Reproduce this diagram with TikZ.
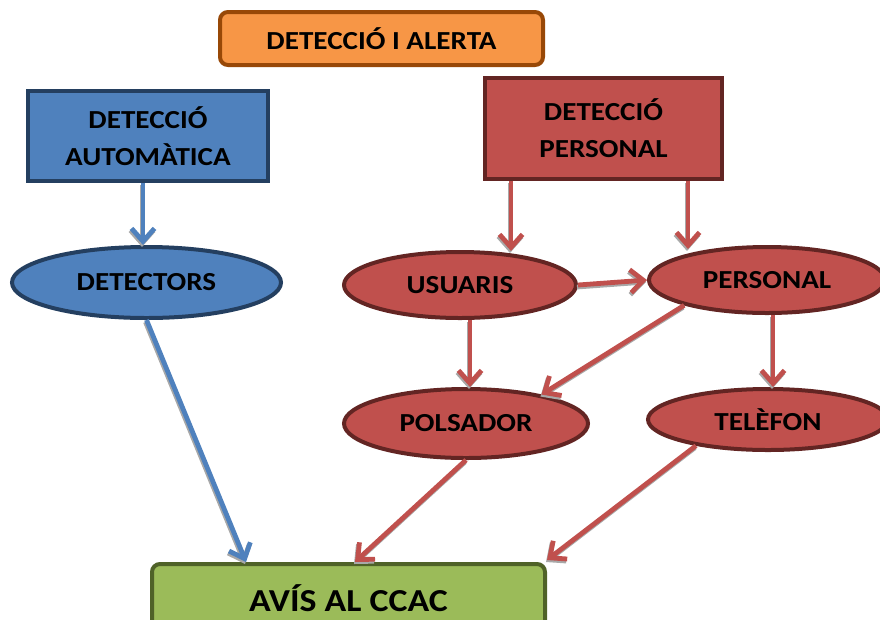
\documentclass[tikz,border=0pt]{standalone}
\usepackage{fontspec}
\newfontfamily\dfont{Carlito}[FakeStretch=1.12]
\usetikzlibrary{shapes.geometric,arrows.meta,calc}
\definecolor{orfill}{HTML}{F79646}
\definecolor{ordraw}{HTML}{984807}
\definecolor{blfill}{HTML}{4F81BD}
\definecolor{bldraw}{HTML}{243F60}
\definecolor{rdfill}{HTML}{C0504D}
\definecolor{rddraw}{HTML}{632523}
\definecolor{grfill}{HTML}{9BBB59}
\definecolor{grdraw}{HTML}{4F6228}
\definecolor{shad}{HTML}{A8A8A8}
\begin{document}
\begin{tikzpicture}[x=1pt,y=-1pt,
  txt/.style={font=\dfont\bfseries\fontsize{26}{37}\selectfont, text=black, align=center, inner sep=0pt},
  rbox/.style={txt, rectangle, draw, line width=4pt},
  ell/.style={txt, ellipse, draw, line width=4pt},
  conn/.style={line width=4.8pt, -{Straight Barb[length=13pt,width=23pt,line width=4.8pt]}},
]
\clip (0,0) rectangle (880,619);
\useasboundingbox (0,0) rectangle (880,619);

% boxes
\node[rbox, fill=orfill, draw=ordraw, rounded corners=8pt, minimum width=323pt, minimum height=53pt] (top) at (381.5,38.5) {DETECCIÓ I ALERTA};
\node[rbox, fill=blfill, draw=bldraw, minimum width=240pt, minimum height=90pt] (auto) at (148,136) {DETECCIÓ\\AUTOMÀTICA};
\node[rbox, fill=rdfill, draw=rddraw, minimum width=237pt, minimum height=101pt] (rb) at (603.5,128) {DETECCIÓ\\PERSONAL};
\node[rbox, fill=grfill, draw=grdraw, rounded corners=8pt, minimum width=393pt, minimum height=68pt,
      font=\dfont\bfseries\fontsize{32}{38}\selectfont] (avis) at (348.5,598) {AVÍS AL CCAC};

% ellipses
\node[ell, fill=blfill, draw=bldraw, minimum width=269pt, minimum height=71pt] (det) at (146.5,282.5) {DETECTORS};
\node[ell, fill=rdfill, draw=rddraw, minimum width=232pt, minimum height=66pt] (usu) at (460,285) {USUARIS};
\node[ell, fill=rdfill, draw=rddraw, minimum width=236pt, minimum height=66pt] (pers) at (767,280) {PERSONAL};
\node[ell, fill=rdfill, draw=rddraw, minimum width=244pt, minimum height=69pt] (pol) at (466,423.5) {POLSADOR};
\node[ell, fill=rdfill, draw=rddraw, minimum width=240pt, minimum height=61pt] (tel) at (768,419.5) {TELÈFON};

% connector end points
\coordinate (a1s) at ($(auto.south)+(-5,0)$);
\coordinate (a1e) at ($(det.north)+(-3.5,0)$);
\coordinate (a2s) at ($(rb.south west)+(28,0)$);
\coordinate (a2e) at ($(usu.north)+(51,1)$);
\coordinate (a3s) at ($(rb.south west)+(205,0)$);
\coordinate (a3e) at ($(pers.north)+(-79,4)$);
\coordinate (a5s) at ($(usu.south)+(10,0)$);
\coordinate (a5e) at ($(pol.north)+(4,0)$);
\coordinate (a7s) at ($(pers.south)+(6,0)$);
\coordinate (a7e) at ($(tel.north)+(5,0)$);
\coordinate (a8e) at ($(avis.north west)+(96,0)$);
\coordinate (a9e) at ($(avis.north west)+(205,0)$);
\coordinate (a10e) at ($(avis.north east)+(0,-2)$);

% shadows
\begin{scope}[transform canvas={shift={(-1pt,-2pt)}}, conn, shad]
\draw (a1s) -- (a1e);
\draw (a2s) -- (a2e);
\draw (a3s) -- (a3e);
\draw (usu.east) -- (pers.west);
\draw (a5s) -- (a5e);
\draw (pers.197) -- (pol.21);
\draw (a7s) -- (a7e);
\draw (det.south) -- (a8e);
\draw (pol.south) -- (a9e);
\draw (tel.200) -- (a10e);
\end{scope}

% connectors
\draw[conn, blfill] (a1s) -- (a1e);
\draw[conn, rdfill] (a2s) -- (a2e);
\draw[conn, rdfill] (a3s) -- (a3e);
\draw[conn, rdfill] (usu.east) -- (pers.west);
\draw[conn, rdfill] (a5s) -- (a5e);
\draw[conn, rdfill] (pers.197) -- (pol.21);
\draw[conn, rdfill] (a7s) -- (a7e);
\draw[conn, blfill] (det.south) -- (a8e);
\draw[conn, rdfill] (pol.south) -- (a9e);
\draw[conn, rdfill] (tel.200) -- (a10e);
\end{tikzpicture}
\end{document}
